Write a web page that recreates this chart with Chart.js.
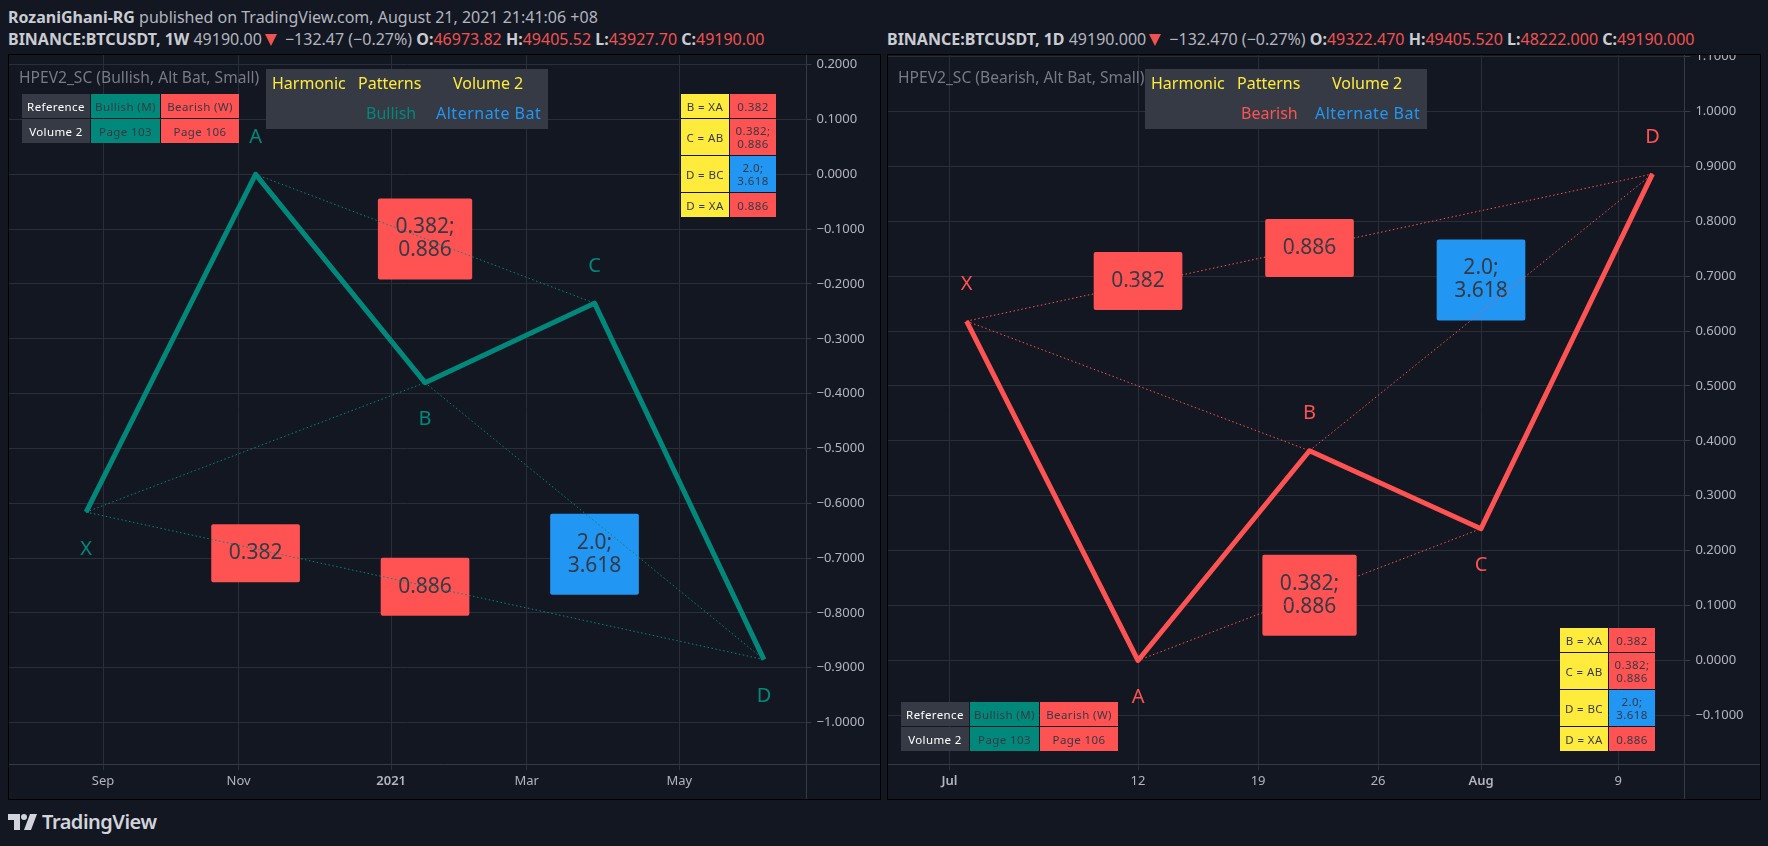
<!DOCTYPE html>
<html>
<head>
<meta charset="utf-8">
<script src="https://cdn.jsdelivr.net/npm/chart.js@4/dist/chart.umd.min.js"></script>
<style>
  html, body { margin: 0; padding: 0; width: 1768px; height: 846px; overflow: hidden; background: #131722; }
  body { font-family: "Noto Sans", sans-serif; color: #b2b5be; position: relative; }
  .abs { position: absolute; white-space: nowrap; }
  .head { font-size: 16px; line-height: 20px; }
  .head b { color: #c9ccd3; font-weight: 700; }
  .head i { font-style: normal; color: #ef5350; }
  .head u { display: inline-block; width: 0; height: 0; margin: 0 4px 0 3px; border-left: 6px solid transparent; border-right: 6px solid transparent; border-top: 12px solid #ef5350; vertical-align: -1px; }
  .frame { position: absolute; top: 55px; height: 744px; outline: 1.5px solid #000; }
  canvas { display: block; }
  .study { top: 67px; font-size: 15.6px; line-height: 20px; color: #787b86; }
  .banner { top: 69px; width: 282px; height: 60px; background: #363a45; font-size: 16px; }
  .banner span { position: absolute; line-height: 20px; white-space: nowrap; }
  .grid { position: absolute; display: grid; gap: 1px; font-size: 11.5px; letter-spacing: 0.4px; color: #363a45; text-align: center; line-height: 13px; }
  .grid div { display: flex; align-items: center; justify-content: center; }
  .y { background: #ffeb3b; } .r { background: #ff5252; } .g { background: #00897b; } .b { background: #2196f3; }
  .d { background: #363a45; color: #fff; }
  .logo { left: 8px; top: 810px; display: flex; align-items: center; gap: 5px; color: #d1d4dc; font-size: 20px; font-weight: 600; letter-spacing: -0.5px; line-height: 24px; }
</style>
</head>
<body>
<div class="abs head" style="left:8px;top:7px"><b>RozaniGhani-RG</b> published on TradingView.com, August 21, 2021 21:41:06 +08</div>
<div class="abs head" style="left:8px;top:29px"><b>BINANCE:BTCUSDT, 1W</b> 49190.00<u></u> −132.47 (−0.27%) <b>O:</b><i>46973.82</i> <b>H:</b><i>49405.52</i> <b>L:</b><i>43927.70</i> <b>C:</b><i>49190.00</i></div>
<div class="abs head" style="left:887px;top:29px"><b>BINANCE:BTCUSDT, 1D</b> 49190.000<u></u> −132.470 (−0.27%) <b>O:</b><i>49322.470</i> <b>H:</b><i>49405.520</i> <b>L:</b><i>48222.000</i> <b>C:</b><i>49190.000</i></div>

<div class="frame" style="left:9px;width:871px"><canvas id="bullChart" width="871" height="744"></canvas></div>
<div class="frame" style="left:888px;width:872px"><canvas id="bearChart" width="872" height="744"></canvas></div>

<div class="abs study" style="left:19px">HPEV2_SC (Bullish, Alt Bat, Small)</div>
<div class="abs banner" style="left:266px">
  <span style="left:6px;top:4px;color:#ffeb3b">Harmonic</span><span style="left:92px;top:4px;color:#ffeb3b">Patterns</span><span style="left:187px;top:4px;color:#ffeb3b">Volume 2</span>
  <span style="left:100px;top:34px;color:#00897b">Bullish</span><span style="left:170px;top:34px;color:#2196f3;letter-spacing:0.5px">Alternate Bat</span>
</div>
<div class="grid" id="refLeft" style="left:22px;top:94px;grid-template-columns:68px 69px 78px;grid-template-rows:24px 24px">
  <div class="d">Reference</div><div class="g">Bullish (M)</div><div class="r">Bearish (W)</div>
  <div class="d">Volume 2</div><div class="g">Page 103</div><div class="r">Page 106</div>
</div>
<div class="grid" id="ratioLeft" style="left:681px;top:94px;grid-template-columns:48px 46px;grid-template-rows:24px 36px 36px 24px">
  <div class="y">B = XA</div><div class="r">0.382</div>
  <div class="y">C = AB</div><div class="r">0.382;<br>0.886</div>
  <div class="y">D = BC</div><div class="b">2.0;<br>3.618</div>
  <div class="y">D = XA</div><div class="r">0.886</div>
</div>

<div class="abs study" style="left:898px">HPEV2_SC (Bearish, Alt Bat, Small)</div>
<div class="abs banner" style="left:1145px">
  <span style="left:6px;top:4px;color:#ffeb3b">Harmonic</span><span style="left:92px;top:4px;color:#ffeb3b">Patterns</span><span style="left:187px;top:4px;color:#ffeb3b">Volume 2</span>
  <span style="left:96px;top:34px;color:#ff5252">Bearish</span><span style="left:170px;top:34px;color:#2196f3;letter-spacing:0.5px">Alternate Bat</span>
</div>
<div class="grid" id="refRight" style="left:901px;top:702px;grid-template-columns:68px 69px 78px;grid-template-rows:24px 24px">
  <div class="d">Reference</div><div class="g">Bullish (M)</div><div class="r">Bearish (W)</div>
  <div class="d">Volume 2</div><div class="g">Page 103</div><div class="r">Page 106</div>
</div>
<div class="grid" id="ratioRight" style="left:1560px;top:628px;grid-template-columns:48px 46px;grid-template-rows:24px 36px 36px 24px">
  <div class="y">B = XA</div><div class="r">0.382</div>
  <div class="y">C = AB</div><div class="r">0.382;<br>0.886</div>
  <div class="y">D = BC</div><div class="b">2.0;<br>3.618</div>
  <div class="y">D = XA</div><div class="r">0.886</div>
</div>

<div class="abs logo">
  <svg width="29" height="16" viewBox="0 0 29 16"><path fill="#d1d4dc" d="M0 0h12v16H6V6H0z"/><circle cx="16" cy="3" r="3" fill="#d1d4dc"/><path fill="#d1d4dc" d="M22 0h7l-6 16h-7z"/></svg>
  <span>TradingView</span>
</div>

<script>
// pattern legs, x in bars from the first tick
const pointNames = ['X', 'A', 'B', 'C', 'D'];
const bullBars = [-1, 9, 19, 29, 39];
const bullValues = [-0.616, 0, -0.38, -0.235, -0.885];
const bearDays = [2, 12, 22, 32, 42];
const bearValues = [0.618, 0, 0.382, 0.24, 0.886];
const dottedLegs = [[0, 2], [1, 3], [2, 4], [0, 4]];

const boxTexts = [['0.382'], ['0.886'], ['0.382;', '0.886'], ['2.0;', '3.618']];
const bullBoxBars = [9, 19, 19, 29];
const bullBoxValues = [-0.691, -0.752, -0.118, -0.693];
const bearBoxDays = [12, 22, 22, 32];
const bearBoxValues = [0.691, 0.751, 0.119, 0.693];

const bullTickBars = [0, 8, 17, 25, 34];
const bullTickLabels = ['Sep', 'Nov', '2021', 'Mar', 'May'];
const bearTickDays = [1, 12, 19, 26, 32, 40];
const bearTickLabels = ['Jul', '12', '19', '26', 'Aug', '9'];
const boldLabels = ['2021', 'Jul', 'Aug'];

const bullYTicks = [0.2, 0.1, 0, -0.1, -0.2, -0.3, -0.4, -0.5, -0.6, -0.7, -0.8, -0.9, -1];
const bearYTicks = [1.1, 1, 0.9, 0.8, 0.7, 0.6, 0.5, 0.4, 0.3, 0.2, 0.1, 0, -0.1];

const TEAL = '#00897b';
const RED = '#ff5252';
const BLUE = '#2196f3';
const GRID = '#2a2e39';
const AXIS = '#363a45';
const LABEL = '#b2b5be';
const FONT = '"Noto Sans", sans-serif';

function priceLabel(value) {
  const text = Math.abs(value).toFixed(4);
  return value < 0 ? `\u2212${text}` : text;
}

// boxes sit under the dotted legs, letters and frame lines on top
const harmonicPlugin = {
  id: 'harmonic',
  beforeDatasetsDraw(chart, args, opts) {
    const { ctx, scales } = chart;
    ctx.save();
    ctx.textAlign = 'center';
    ctx.textBaseline = 'middle';
    ctx.font = `21px ${FONT}`;
    boxTexts.forEach((lines, i) => {
      const cx = scales.x.getPixelForValue(opts.boxX[i]);
      const cy = scales.y.getPixelForValue(opts.boxY[i]);
      const w = Math.max(...lines.map((l) => ctx.measureText(l).width)) + 35;
      const h = lines.length * 23 + 35;
      ctx.fillStyle = lines[0] === '2.0;' ? BLUE : RED;
      ctx.beginPath();
      ctx.roundRect(cx - w / 2, cy - h / 2, w, h, 2);
      ctx.fill();
      ctx.fillStyle = '#363a45';
      lines.forEach((line, j) => ctx.fillText(line, cx, cy + (j - (lines.length - 1) / 2) * 23));
    });
    ctx.restore();
  },
  afterDraw(chart, args, opts) {
    const { ctx, scales, chartArea, width, height } = chart;
    ctx.save();
    ctx.strokeStyle = AXIS;
    ctx.lineWidth = 1;
    ctx.beginPath();
    ctx.moveTo(0, Math.round(chartArea.bottom) + 0.5);
    ctx.lineTo(width, Math.round(chartArea.bottom) + 0.5);
    ctx.moveTo(Math.round(chartArea.right) + 0.5, 0);
    ctx.lineTo(Math.round(chartArea.right) + 0.5, height);
    ctx.stroke();
    ctx.font = `20px ${FONT}`;
    ctx.textAlign = 'center';
    ctx.textBaseline = 'middle';
    ctx.fillStyle = opts.color;
    pointNames.forEach((name, i) => {
      const side = (i % 2 === 0 ? 1 : -1) * opts.firstSide;
      ctx.fillText(name, scales.x.getPixelForValue(opts.px[i]), scales.y.getPixelForValue(opts.py[i]) + side * 37);
    });
    ctx.restore();
  }
};

function harmonicChart(id, cfg) {
  const pts = cfg.px.map((x, i) => ({ x, y: cfg.py[i] }));
  const datasets = dottedLegs.map(([a, b]) => ({
    data: [pts[a], pts[b]],
    borderColor: cfg.color,
    borderWidth: 1,
    borderDash: [1.5, 2.5],
    pointRadius: 0
  }));
  datasets.push({
    data: pts,
    borderColor: cfg.color,
    borderWidth: 5,
    pointRadius: 0,
    tension: 0,
    borderJoinStyle: 'round'
  });
  return new Chart(document.getElementById(id), {
    type: 'line',
    data: { datasets },
    plugins: [harmonicPlugin],
    options: {
      responsive: false,
      animation: false,
      layout: { padding: 0 },
      plugins: {
        legend: { display: false },
        tooltip: { enabled: false },
        harmonic: { color: cfg.color, px: cfg.px, py: cfg.py, boxX: cfg.boxX, boxY: cfg.boxY, firstSide: cfg.firstSide }
      },
      scales: {
        x: {
          type: 'linear',
          min: cfg.xMin,
          max: cfg.xMax,
          afterBuildTicks: (scale) => { scale.ticks = cfg.xTicks.map((value) => ({ value })); },
          afterFit: (scale) => { scale.height = 34.7; scale.paddingLeft = 0; scale.paddingRight = 0; },
          grid: { color: GRID, tickColor: GRID, tickLength: 6 },
          border: { display: false },
          ticks: {
            autoSkip: false,
            maxRotation: 0,
            padding: 3,
            color: LABEL,
            font: (c) => ({ family: FONT, size: 13, weight: boldLabels.includes(cfg.xLabels[cfg.xTicks.indexOf(c.tick?.value)]) ? '600' : '400' }),
            callback: (value) => cfg.xLabels[cfg.xTicks.indexOf(value)]
          }
        },
        y: {
          type: 'linear',
          position: 'right',
          min: cfg.yMin,
          max: cfg.yMax,
          afterBuildTicks: (scale) => { scale.ticks = cfg.yTicks.map((value) => ({ value })); },
          afterFit: (scale) => { scale.width = cfg.axisWidth; scale.paddingTop = 0; scale.paddingBottom = 0; },
          grid: { color: GRID, tickColor: AXIS, tickLength: 6 },
          border: { display: false },
          ticks: {
            autoSkip: false,
            padding: 5,
            color: LABEL,
            font: { family: FONT, size: 13 },
            callback: (value) => priceLabel(value)
          }
        }
      }
    }
  });
}

harmonicChart('bullChart', {
  color: TEAL, px: bullBars, py: bullValues, boxX: bullBoxBars, boxY: bullBoxValues, firstSide: 1,
  xTicks: bullTickBars, xLabels: bullTickLabels, xMin: -5.55, xMax: 41.45,
  yTicks: bullYTicks, yMin: -1.076, yMax: 0.2176, axisWidth: 74.5
});
harmonicChart('bearChart', {
  color: RED, px: bearDays, py: bearValues, boxX: bearBoxDays, boxY: bearBoxValues, firstSide: -1,
  xTicks: bearTickDays, xLabels: bearTickLabels, xMin: -2.58, xMax: 43.86,
  yTicks: bearYTicks, yMin: -0.189, yMax: 1.1026, axisWidth: 75.6
});
</script>
</body>
</html>
